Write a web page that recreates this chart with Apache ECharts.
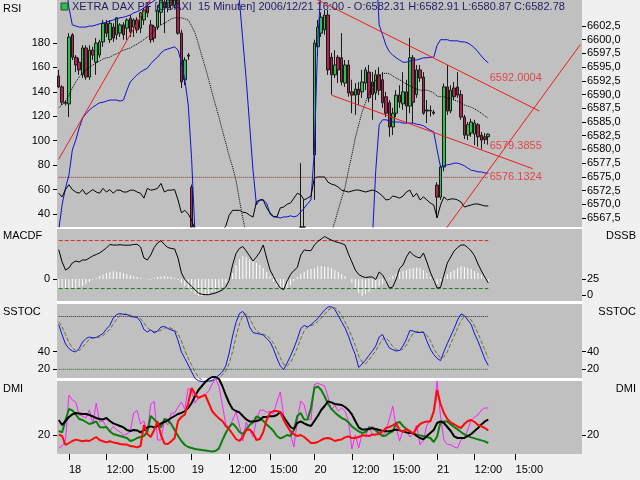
<!DOCTYPE html>
<html><head><meta charset="utf-8">
<script src="https://cdn.jsdelivr.net/npm/echarts@6.0.0/dist/echarts.min.js"></script>
<style>html,body{margin:0;padding:0;background:#f0f0f0;}#c{width:640px;height:480px;}</style>
</head><body><div id="c"></div>
<script>
// ---------- categories ----------
const DAYS = ['15','18','19','20','21'];
const BARS_PER_DAY = [3, 36, 36, 36, 43];
const FIRST_BAR = ['17:30','09:15','09:15','09:15','09:15'];
const LABEL_TIMES = ['09:15','12:00','15:00'];
const TITLE = 'XETRA DAX PF [GDAXI  15 Minuten] 2006/12/21 16:00 - O:6582.31 H:6582.91 L:6580.87 C:6582.78';

// ---------- price (open, close, low, high) ----------
const candles = [
[6593.4,6591.4,6591.2,6594.5],[6591.4,6588.6,6588.1,6591.7],[6588.6,6588.4,6588.0,6588.9],[6588.3,6600.5,6585.9,6601.2],[6600.9,6596.8,6596.3,6601.2],
[6596.8,6595.4,6594.1,6597.2],[6595.9,6594.5,6593.6,6596.7],[6593.6,6598.5,6593.0,6599.0],[6598.5,6593.2,6592.7,6599.0],[6593.2,6598.1,6592.7,6599.0],
[6598.1,6597.2,6596.3,6598.7],[6595.9,6599.4,6593.6,6600.3],[6597.2,6599.6,6596.7,6600.0],[6599.6,6603.0,6598.7,6603.6],[6603.0,6601.2,6600.5,6603.6],
[6600.0,6603.0,6599.4,6603.6],[6602.3,6600.3,6599.6,6603.0],[6600.9,6604.0,6600.0,6604.1],[6601.2,6602.7,6600.5,6603.0],[6602.7,6600.9,6600.0,6603.2],
[6602.1,6603.6,6600.0,6603.9],[6603.9,6601.4,6600.5,6604.5],[6602.3,6603.6,6600.5,6603.9],[6603.6,6601.8,6601.2,6604.1],[6602.1,6604.9,6601.2,6605.0],
[6603.6,6605.4,6602.7,6605.8],[6606.0,6604.9,6604.1,6606.7],[6602.7,6600.0,6599.4,6603.6],[6602.3,6600.3,6599.6,6602.7],[6602.3,6605.4,6601.8,6606.3],
[6605.0,6607.2,6602.7,6608.1],[6606.9,6605.8,6601.2,6608.1],[6605.8,6607.8,6605.0,6608.7],[6607.8,6606.3,6605.4,6608.7],[6606.3,6608.1,6605.8,6609.0],
[6608.1,6601.2,6600.9,6608.7],[6601.2,6592.3,6591.2,6601.8],[6592.7,6596.3,6591.7,6596.8],[6597.2,6597.0,6596.3,6597.6],[6573.1,6556.0,6553.0,6573.6],
[6556,6552,6549,6558],[6552,6548,6545,6554],[6548,6551,6546,6553],[6551,6549,6547,6553],[6549,6553,6548,6555],
[6553,6550,6549,6555],[6550,6547,6545,6552],[6547,6549,6545,6551],[6549,6552,6548,6554],[6552,6555,6551,6557],
[6555,6558,6554,6560],[6558,6557,6555,6560],[6557,6559,6556,6561],[6559,6556,6555,6561],[6556,6554,6553,6558],
[6554,6556,6552,6557],[6556,6553,6552,6558],[6553,6551,6550,6555],[6551,6554,6550,6556],[6554,6557,6553,6559],
[6557,6556,6554,6558],[6556,6553,6552,6558],[6553,6551,6550,6555],[6551,6550,6549,6553],[6550,6553,6549,6554],
[6553,6555,6552,6557],[6555,6554,6553,6557],[6554,6556,6553,6558],[6556,6558,6555,6560],[6558,6560,6557,6562],
[6560,6562,6559,6564],[6562,6559,6558,6577.5],[6559,6561,6557,6570.8],[6561,6560,6558,6564],[6560,6563,6559,6565],
[6579.0,6599.4,6570.8,6600.0],[6598.7,6602.3,6597.0,6603.6],[6601.2,6604.1,6600.5,6605.0],[6601.8,6604.5,6600.9,6605.4],[6604.5,6594.5,6593.6,6605.4],
[6596.8,6593.6,6590.0,6597.6],[6593.6,6595.4,6593.0,6598.1],[6596.8,6594.5,6592.1,6597.2],[6596.7,6592.3,6591.7,6601.2],[6592.1,6595.4,6591.4,6596.3],
[6595.4,6590.3,6589.6,6596.3],[6590.5,6589.9,6586.6,6592.7],[6589.9,6591.0,6586.3,6592.1],[6591.0,6590.0,6588.1,6592.3],[6590.5,6592.3,6589.4,6594.5],
[6592.1,6594.5,6590.8,6595.0],[6594.1,6589.4,6588.6,6595.4],[6592.3,6590.0,6585.4,6594.1],[6590.3,6593.6,6589.0,6594.5],[6593.6,6590.8,6589.9,6595.0],
[6592.7,6588.5,6587.6,6594.1],[6589.6,6586.6,6585.9,6590.5],[6588.5,6584.1,6582.3,6589.0],[6584.1,6586.6,6582.6,6587.6],[6586.6,6589.9,6585.9,6590.8],
[6589.9,6588.6,6587.6,6591.7],[6588.3,6590.5,6587.2,6594.1],[6590.5,6587.9,6585.0,6592.7],[6587.9,6596.7,6586.6,6600.3],[6596.7,6588.6,6584.8,6597.2],
[6590.0,6594.5,6589.4,6595.4],[6594.5,6593.0,6592.3,6595.4],[6593.2,6586.6,6586.3,6594.1],[6587.2,6587.0,6584.8,6589.0],[6587.0,6587.1,6586.0,6588.0],
[6586.8,6586.6,6586.3,6587.2],[6573.5,6571.3,6567.7,6574.0],[6571.3,6576.8,6570.8,6577.2],[6576.8,6591.4,6576.0,6592.0],[6591.4,6587.0,6586.3,6595.4],
[6587.0,6590.8,6586.6,6591.7],[6591.2,6589.6,6589.0,6592.3],[6591.4,6589.9,6589.4,6594.1],[6590.0,6585.9,6585.4,6590.8],[6585.9,6582.6,6581.9,6586.3],
[6582.6,6584.5,6581.7,6585.0],[6583.0,6585.0,6582.3,6585.6],[6582.8,6584.8,6580.8,6585.4],[6584.5,6582.3,6580.5,6584.8],[6582.6,6581.7,6580.0,6583.2],
[6582.3,6581.8,6581.0,6583.0],[6582.31,6582.78,6580.87,6582.91]
];

const bbUpper = [
6614,6613,6611,6605.8,6602.7,6602.5,6602.3,6602.3,6602.3,6602.5,
6602.5,6602.7,6602.9,6603.0,6603.2,6603.4,6603.6,6603.8,6604.0,6604.1,
6604.3,6604.5,6604.9,6605.1,6605.4,6605.8,6606.3,6606.7,6607.1,6607.6,
6608.0,6608.5,6609.0,6609.4,6609.8,6610.5,6612,6613.5,6615,6619,
6622,6624,6625,6625,6624,6623,6622,6620,6618,6616,
6614,6612,6610,6607.2,6600.0,6592.7,6584.5,6576.2,6569.9,6570.8,
6570.8,6570.2,6568.2,6567.7,6567.7,6567.5,6567.7,6567.7,6567.9,6567.7,
6567.9,6568.6,6569.3,6570.1,6570.8,6579.9,6600.0,6610,6614,6617,
6619,6621,6622,6623,6623,6623,6622,6622,6621,6620,
6619,6618,6617,6614.5,6602.7,6600.9,6599.0,6597.8,6597.2,6596.7,
6596.3,6595.9,6595.9,6596.1,6596.3,6596.3,6596.5,6596.7,6596.7,6596.8,
6596.8,6599.0,6600.0,6600.0,6600.0,6599.8,6599.8,6599.8,6599.6,6599.6,
6599.4,6599.0,6598.5,6597.8,6597.0,6596.3,6595.8
];
const bbMiddle = [
6587.6,6588.1,6588.8,6589.9,6591.2,6592.3,6593.2,6593.9,6594.5,6595.0,
6595.4,6595.8,6596.1,6596.5,6596.7,6596.8,6597.2,6597.4,6597.8,6598.1,
6598.3,6598.5,6598.9,6599.2,6599.6,6600.0,6600.5,6601.0,6601.6,6602.1,
6602.7,6603.0,6603.4,6603.8,6604.0,6604.0,6604.0,6603.8,6603.6,6602.5,
6601.2,6599.2,6597.0,6595.0,6592.7,6590.3,6588.1,6585.9,6583.5,6581.2,
6578.8,6576.8,6574.4,6570.8,6567.5,6564.4,6562.5,6561.0,6559.5,6558.5,
6557.5,6557.0,6556.5,6556.0,6555.5,6555.2,6555.0,6555.0,6554.8,6554.8,
6555.0,6555.2,6555.5,6555.8,6556.2,6557.5,6559.0,6560.5,6562.0,6563.5,
6565.0,6566.8,6569.0,6571.1,6573.1,6576.2,6579.0,6582.1,6584.5,6586.8,
6588.6,6590.3,6591.7,6592.7,6593.4,6593.8,6593.9,6593.8,6593.4,6593.0,
6592.7,6592.3,6591.9,6591.6,6591.2,6591.0,6590.8,6590.8,6590.8,6590.6,
6590.3,6589.7,6589.6,6589.6,6589.4,6589.2,6589.0,6588.8,6588.5,6588.1,
6587.9,6587.7,6587.4,6587.0,6586.6,6586.1,6585.7
];
const bbLower = [
6565.3,6569.9,6573.0,6575.3,6579.9,6581.7,6583.9,6585.7,6586.5,6587.2,
6587.7,6588.1,6588.5,6588.6,6588.8,6589.0,6589.0,6589.0,6588.8,6589.0,
6590.8,6592.3,6593.0,6593.6,6594.1,6594.5,6594.8,6595.6,6596.3,6596.8,
6597.6,6598.1,6598.3,6598.5,6598.7,6598.1,6595.9,6592.7,6588.1,6578.1,
6564.4,6548,6543,6540,6538,6537,6536,6536,6537,6538,
6539,6540,6541,6542,6543,6544,6545,6546,6546,6547,
6547,6548,6548,6548,6547,6547,6547,6546,6546,6546,
6547,6547,6546,6545,6544,6542,6538,6535,6532,6530,
6529,6528,6528,6528,6529,6530,6531,6532,6534,6536,
6538,6541,6563.5,6576.2,6584.5,6585.4,6585.4,6585.2,6585.0,6585.0,
6585.0,6584.8,6584.8,6584.8,6584.8,6584.6,6584.5,6584.3,6583.9,6583.5,
6583.2,6579.9,6576.8,6577.0,6577.2,6577.3,6577.5,6577.5,6577.3,6577.0,
6576.6,6576.2,6576.1,6575.9,6575.9,6575.7,6575.7
];
const rsi = [
57,54,60,64,60,58,57,60,56,58,
60,58,57,61,58,60,57,59.5,59.5,58,
58,59.5,59.5,58,57,53,61,59.5,60,61,
65,58,59.5,59.5,60,51.5,41,43,40,35,
27,19,15,15,17,19,20,23,27,30,
39,43,43,43,41.5,41,39,37.5,50,51.5,
51.5,45,41,38,37.5,45,45.7,48,49,53,
57,55.6,51.5,53,54.7,69.5,70.3,70.3,70.3,66,
64.5,63.7,62,59.6,58.8,58,58.8,59.6,59.6,58.8,
58,58.8,59.6,58.8,57,54.7,51.5,52,54.7,54,
53,54.7,58,59.6,53.9,57,51.5,54,51.5,49,
47.4,36.7,47.4,54,51.5,52.3,52.3,51.5,49.8,45.7,
46.6,47.4,48.2,48.2,47.4,46.6,46.6
];
const rsiLevel = 70;

// trend lines: [category index, price] end points
const trendLines = [
  [[0, 6578.2], [28, 6608.5]],
  [[72, 6608.5], [141, 6587.0]],
  [[80, 6589.9], [139, 6576.5]],
  [[112, 6564.2], [153, 6599.1]]
];
const trendLabelIndex = 126;
const trendLabelValues = [6592.0004, 6579.3855, 6576.1324];

// ---------- MACD / DSS ----------
const macdHist = [
-0.9,-1.0,-1.1,-1.0,-1.0,-0.9,-0.8,-0.7,-0.5,-0.3,
-0.1,0.1,0.3,0.45,0.6,0.7,0.75,0.75,0.7,0.6,
0.5,0.4,0.3,0.2,0.1,0.05,-0.05,-0.1,0.1,0.2,
0.25,0.3,0.25,0.2,0.1,-0.1,-0.4,-0.7,-1.0,-1.2,
-1.5,-1.7,-1.7,-1.6,-1.5,-1.3,-1.2,-1.0,-0.8,-0.4,
0,0.6,1.4,2.0,2.3,2.2,2.0,1.8,1.6,1.4,
1.1,0.7,0.3,-0.3,-0.7,-1.0,-1.1,-1.0,-0.6,-0.2,
0.2,0.5,0.7,0.9,1.0,1.1,1.25,1.3,1.25,1.2,
1.1,0.9,0.7,0.5,0.3,0,-0.4,-0.9,-1.4,-1.7,
-1.5,-1.3,-1.1,-0.9,-0.7,-0.5,-0.3,0.1,0.3,0.5,
0.7,0.8,0.9,1.0,1.1,1.15,1.1,0.9,0.6,0.2,
-0.3,-0.5,-0.2,0.2,0.5,0.7,0.9,1.1,1.25,1.2,
1.1,1.0,0.8,0.6,0.4,0.1,-0.3
];
const dss = [
70.8,51.6,39,42.2,50,53,51.6,54.7,54.7,57.8,
61,63.3,65.6,69.5,73.4,78.9,78,78,78.6,78,
77.7,78,78.9,79.2,75,57.8,54.7,62.5,74.2,81.3,
84.8,78.9,74.2,72.7,71.9,57.8,34.4,24.2,18.8,13.3,
7.8,3.1,1.1,0.5,0.5,1.9,3.1,5.2,7.8,12.5,
22.7,46.9,64.8,72.7,75.8,68.8,61,53,59.4,67.2,
78.1,57.8,39,28.9,18.8,10.9,8.3,21.9,32,38.3,
43,62.5,70.3,69.5,69.2,78.1,83.6,87.5,91.4,88.3,
85.9,83.6,82,80.5,78.1,64,51.6,39,32,28.9,
27.3,28.1,28.1,24.2,35.9,31.3,21.9,10.9,12.5,25,
41.4,46.9,59.4,68,62.5,59.4,57.8,65.6,51.6,35.9,
23.4,10.9,11.7,31.3,50,59.4,68.8,74.2,78.1,78.1,
74.2,68.8,61,48.4,37.5,28.1,18.8
];
const dssLevels = [85, 10];

// ---------- slow stochastic ----------
const stochK = [
70.9,59,48.8,43.6,40.8,39.7,43.6,51,55,56.7,
55.6,56.1,58.4,60.7,65.8,69.8,78.3,82.3,83.4,82.3,
82.3,80,79.4,78.9,74.3,65.2,62.4,64.7,61.3,63.5,
68.1,68.6,66.4,64.7,63.5,52.7,39.7,32.3,24.9,16.9,
9.5,7,6,6,6.5,7.5,10.1,13.5,16.9,23.8,
38.5,57.8,73.2,83.4,85.7,80.6,68.1,61.8,60.7,60.1,
59,55,51,43.1,32.8,23.8,19.8,27.2,35.1,44.2,
54.4,66.4,69.8,68.1,70.7,74.3,77.7,82.8,87.4,90.8,
91.1,88,81.1,73.8,66.9,57.8,46.5,36.6,22,26,
30.6,35.7,40.8,46.5,56.7,59.5,51,44.2,42.3,40.8,
41.4,46.5,54.4,64.1,63.5,61.8,61.8,62.4,52.2,43.1,
36.8,32.3,29.8,40.2,49.3,57.8,66.4,76,82.8,81.1,
76,70.9,60.1,51.8,41.9,31.7,24.3
];
const stochD = [
74,68,59.6,50.5,44.4,41.4,41.4,44.8,49.9,54.2,
55.8,56.1,56.7,58.4,61.6,65.4,71.3,76.8,81.3,82.7,
82.7,81.5,80.6,79.4,77.5,72.8,67.3,64.1,62.8,63.2,
64.3,66.7,67.7,66.6,64.9,60.3,52,41.6,32.3,24.7,
17.1,11,8,6.5,6.2,6.7,8,10.1,13.5,18.1,
26.4,40,56.5,71.5,80.8,83.2,78.1,70.2,63.5,60.9,
59.9,58,55,49.7,42.3,33.2,25.5,23.6,27.4,35.5,
44.6,55,63.5,68.1,69.5,71,74.2,78.3,82.6,87,
89.8,90,86.7,81,73.9,66.2,57.1,47,35,28.2,
26.2,30.8,35.7,41,48,54.2,55.7,51.6,45.8,42.4,
41.5,42.9,47.4,55,60.7,63.1,62.4,62,58.8,52.6,
44,37.4,33,34.1,39.8,49.1,57.8,66.7,75.1,80,
80,76,69,60.9,51.3,41.8,32.6
];
const stochLevels = [80, 20];

// ---------- DMI ----------
const dmiBlack = [
27.5,25,27,29,30.3,31,30.8,30.5,30.5,30,
29.3,28.5,28,27.8,28.5,27,25.8,25.2,24.5,23.8,
22.5,22,22.5,22.3,21.3,22.5,23.8,24.3,23.8,24.5,
25.8,26.5,27.3,28.5,29.5,30.5,31,32,33.5,36,
39.5,42.5,44.5,46.5,48,49,49,48,44.5,40,
36,33,32,31.3,29.5,27.8,26.8,26.8,27,27.5,
29,29,29.4,29.4,30,31.5,29,26.5,24,23,
26,26.8,25.8,25,24.5,27,29.5,32.5,34.5,36.8,
36.3,35.5,35.3,35,34,32.5,30.3,27,23.8,22.7,
22.7,23,23.4,23,22.5,22,21.9,21.9,22.3,22.7,
22.3,21.8,21.3,21,21,19.5,18.5,17.8,19.5,21,
22.5,26,26.8,26,24,22,19.3,18.5,18.5,18.5,
19.5,20.5,22,23.5,25.3,26.8,27.7
];
const dmiRed = [
20.2,19.5,15,16,17,17.7,17.3,16.9,17.2,17,
18,19,17.5,16.9,16.3,16.9,16.3,16,15.5,15.2,
15.2,14.5,14.3,13.8,14.5,25,20.5,19,22.5,26.8,
20,15.8,15.5,16.8,18.5,27,29,30.2,36,43.5,
40.5,38.5,39.3,40,36,32,30,28.3,27,24.5,
22.8,20.5,18,17,19,22.5,22.8,21,17.5,18,
21.5,27.5,31,32,32,31.5,27.5,24.3,22,20.3,
19.5,20,19,17.5,16,16,16.5,17.5,18.3,18.5,
18,17,17.5,17.8,18.8,19.3,18.5,18.5,19,19.8,
19.8,19.5,20.2,20.2,20.5,21.8,23.5,24,24.8,25.8,
22.5,21.5,23,22,20.5,23.5,25.5,26.3,26.8,26.8,
31.5,42.5,35.5,31,28,26.3,25.3,24.3,23.5,25.5,
27,27.5,26.5,25,24.3,23.5,22.3
];
const dmiGreen = [
22,21.3,27.5,33,32.3,30.3,28,27.5,26.5,25.5,
26,26.8,24,23.8,24,21.8,20.5,20,19.5,19,
18.5,17,17.5,18.5,19,19.5,21.5,29.5,27.8,26,
23.8,28,27.5,25.5,22.5,19.5,17,15,14,13.5,
13,12.8,12.5,12.3,12,11.8,12,13.3,17.3,21,
24,25.8,24,21.5,20.5,22.8,25,26.3,29.3,28.5,
27,25.3,23.8,22,19.5,18.3,19,20,19.5,22.5,
29.5,31,27.7,27.7,33.5,43.5,44.3,42.5,39.3,35.5,
33,31.3,29.8,28.5,27.7,26.3,24.3,23,21.8,21,
21.5,23.5,23.8,22.3,20.8,19.5,19.8,21,21.8,26,
26.5,24.5,23,21.8,20.8,20.2,19.8,19.4,19,18.5,
16.5,19.3,26.5,26.8,26.8,25.3,24,22.8,21.5,20.3,
19.5,18.8,18.3,17.8,17.3,16.8,16
];
const dmiMagenta = [
13.5,14.5,17.5,40,37.5,36.5,30,29.5,28.5,32.5,
25.5,36,26.5,27,24,22,24.3,22.5,21.5,20,
20.5,21.8,31,32.3,25.5,27,21,35.5,36.8,17.5,
17.5,27.5,25,31,31,34,36.5,33,43.5,41.5,
36,38.5,39.5,40.5,42,45.5,48,44.5,35,25.5,
23.5,27.5,31.5,25,17,26.5,22.5,19,27.5,32.3,
32.5,31.3,31.8,30.5,36.5,41.5,29.8,25.5,20.5,14,
27.5,37,35,28.5,27.5,45.3,45.8,45.2,44.5,39,
32.5,34.8,32,33.5,31.8,27,13,20,13.5,21,
19,24.5,20,20,22.5,19.5,22,28,34.5,23.5,
17,22.5,22,19,21,25,15,17.5,25,27.5,
32.5,47,29.5,17.5,15.2,15.2,14,13.5,17.5,19,
22.5,27.5,29,30,32.5,33.5,33.5
];

// ---------- axis tick values ----------
const rsiTicks = [40,60,80,100,120,140,160,180];
const priceTicks = [6567.5,6570,6572.5,6575,6577.5,6580,6582.5,6585,6587.5,6590,6592.5,6595,6597.5,6600,6602.5];
const macdTicks = [0];
const dssTicks = [0,25];
const stochTicks = [20,40];
const dmiTicks = [20];

// ---------- build ----------
const PRICE_MIN = 6565.86, PRICE_MAX = 6607.24;
function timesFrom(start, count){
  const p = start.split(':'); let t = (+p[0])*60 + (+p[1]); const out = [];
  for (let i=0;i<count;i++){ out.push(String(Math.floor(t/60)).padStart(2,'0')+':'+String(t%60).padStart(2,'0')); t += 15; }
  return out;
}
const categories = [];
DAYS.forEach((d,i)=>timesFrom(FIRST_BAR[i], BARS_PER_DAY[i]).forEach(t=>categories.push(d+' '+t)));
const lastIdx = candles.length - 1;

// candles are only partly inside the visible price window: hide the ones wholly outside,
// and cut the others at the window edge (the library does not clip candles partially)
const clampP = v => Math.min(PRICE_MAX, Math.max(PRICE_MIN, v));
const candlesShown = candles.map(c => (c[3] < PRICE_MIN || c[2] > PRICE_MAX) ? '-' : c.map(clampP));

const FONT = 'Liberation Sans';
const labelInterval = (idx, val) => LABEL_TIMES.indexOf(String(val).split(' ')[1]) >= 0;
const labelFormatter = val => { const p = String(val).split(' '); return p[1] === '09:15' ? p[0] : p[1]; };

function xAx(g, show){
  return {type:'category', gridIndex:g, data:categories, boundaryGap:true,
    axisLine:{show:false}, splitLine:{show:false},
    axisTick:{show:show, alignWithLabel:true, length:6, interval:labelInterval, lineStyle:{color:'#000'}},
    axisLabel:{show:show, interval:labelInterval, formatter:labelFormatter, align:'left', margin:10,
      color:'#000', fontSize:11, fontFamily:FONT}};
}
function yAx(g, pos, min, max, ticks, fmt, margin){
  return {type:'value', gridIndex:g, position:pos, min:min, max:max,
    splitLine:{show:false}, axisLine:{show:false},
    axisTick:{show:true, length:4, customValues:ticks, lineStyle:{color:'#000'}},
    axisLabel:{show:true, customValues:ticks, margin:margin||6, color:'#000', fontSize:11, fontFamily:FONT,
      formatter: fmt || (v => String(v))}};
}
function line(xi, yi, data, color, width, type, clip){
  return {type:'line', xAxisIndex:xi, yAxisIndex:yi, data:data, symbol:'none', silent:true,
    clip: clip !== false, lineStyle:{color:color, width:width, type:type||'solid'}};
}
function level(xi, yi, v, color, type){
  return line(xi, yi, [[0, v], [lastIdx, v]], color, 1, type);
}

const series = [
  line(0,1,bbUpper,'#1010d0',1),
  line(0,1,bbLower,'#1010d0',1),
  line(0,1,bbMiddle,'#000',1,'dotted'),
  {type:'candlestick', xAxisIndex:0, yAxisIndex:1, data:candlesShown, barWidth:3, clip:true, silent:true,
    itemStyle:{color:'#2fc250', color0:'#b3244d', borderColor:'#1a1a1a', borderColor0:'#1a1a1a', borderWidth:1}},
  line(0,0,rsi,'#000',1),
  level(0,0,rsiLevel,'#803434','dotted'),
];
trendLines.forEach(t => series.push(line(0,1,t,'#ee1c1c',1)));
const trendLabelOffsets = [[0,-6],[0,-7],[0,6]];
series.push({type:'scatter', xAxisIndex:0, yAxisIndex:1, symbolSize:1, silent:true,
  itemStyle:{color:'rgba(0,0,0,0)'},
  data: trendLabelValues.map((v,i)=>({value:[trendLabelIndex, v],
    label:{show:true, position:'right', distance:1, offset:trendLabelOffsets[i], formatter:String(v.toFixed(4)),
      color:'#e8262c', fontSize:11, fontFamily:FONT}}))});

// MACD panel
series.push({type:'bar', xAxisIndex:1, yAxisIndex:2, data:macdHist, barWidth:1, silent:true, itemStyle:{color:'#ffffff'}});
series.push(level(1,3,dssLevels[0],'#e02828','dashed'));
series.push(level(1,3,dssLevels[1],'#1e7a1e','dashed'));
series.push(line(1,3,dss,'#000',1));
// SSTOC panel
series.push(level(2,4,stochLevels[0],'#303030','dotted'));
series.push(level(2,4,stochLevels[1],'#2e5e2e','dotted'));
series.push(line(2,4,stochD,'#6e6e28',1,'dashed',false));
series.push(line(2,4,stochK,'#1414d8',1,'solid',false));
// DMI panel
series.push(line(3,6,dmiMagenta,'#ff20ff',1,'solid',false));
series.push(line(3,6,dmiGreen,'#0a800a',2,'solid',false));
series.push(line(3,6,dmiBlack,'#000',2,'solid',false));
series.push(line(3,6,dmiRed,'#ff0a0a',2,'solid',false));

const priceFmt = v => v.toFixed(1).replace('.', ',');
const gridBase = {left:57, right:58, show:true, backgroundColor:'#c0c0c0', borderWidth:0};

const txt = (x, y, s, align, extra) => Object.assign({type:'text', x:x, y:y, z:100,
  style:{text:s, fill:'#000', font:'11px "'+FONT+'"', textAlign:align||'left', textVerticalAlign:'middle'}}, extra||{});

const option = {
  animation:false,
  backgroundColor:'#f0f0f0',
  grid:[
    Object.assign({top:0, height:227}, gridBase),
    Object.assign({top:229, height:72}, gridBase),
    Object.assign({top:304, height:74}, gridBase),
    Object.assign({top:381, height:73}, gridBase)
  ],
  xAxis:[xAx(0,false), xAx(1,false), xAx(2,false), xAx(3,true)],
  yAxis:[
    yAx(0,'left',29.35,215.2,rsiTicks,null,7),
    yAx(0,'right',PRICE_MIN,PRICE_MAX,priceTicks,priceFmt,5),
    yAx(1,'left',-2.2,5.0,macdTicks,null,7),
    yAx(1,'right',-9.4,103.1,dssTicks,null,5),
    yAx(2,'left',10.1,94.2,stochTicks,null,7),
    yAx(2,'right',10.1,94.2,stochTicks,null,5),
    yAx(3,'left',10.5,47.0,dmiTicks,null,7),
    yAx(3,'right',10.5,47.0,dmiTicks,null,5)
  ],
  series: series,
  graphic:[
    {type:'rect', z:1, shape:{x:57,y:227,width:525,height:2}, style:{fill:'#ffffff'}},
    {type:'rect', z:1, shape:{x:57,y:301,width:525,height:3}, style:{fill:'#ffffff'}},
    {type:'rect', z:1, shape:{x:57,y:378,width:525,height:3}, style:{fill:'#ffffff'}},
    {type:'rect', z:100, shape:{x:61,y:3,width:7,height:7}, style:{fill:'#22c444', stroke:'#2a4a30', lineWidth:1}},
    txt(72, 7, TITLE, 'left', {style:{text:TITLE, fill:'#1e1e66', font:'11px "'+FONT+'"', textVerticalAlign:'middle'}}),
    txt(3, 9, 'RSI'),
    txt(3, 236, 'MACDF'),
    txt(636, 236, 'DSSB', 'right'),
    txt(3, 312, 'SSTOC'),
    txt(636, 312, 'SSTOC', 'right'),
    txt(3, 389, 'DMI'),
    txt(636, 389, 'DMI', 'right')
  ]
};
const chart = echarts.init(document.getElementById('c'), null, {renderer:'canvas'});
chart.setOption(option);
</script>
</body></html>
